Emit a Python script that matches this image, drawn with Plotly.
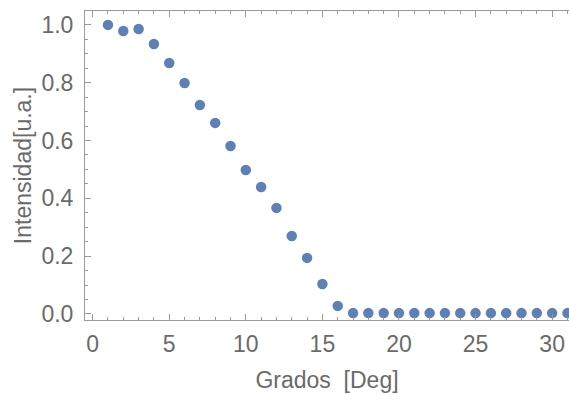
import plotly.graph_objects as go

angles = list(range(1, 32))
intensity = [1.0, 0.979, 0.986, 0.934, 0.868, 0.799, 0.723, 0.661, 0.581, 0.498,
             0.439, 0.367, 0.270, 0.194, 0.104, 0.028] + [0.003] * 15

x_ticks = [0, 5, 10, 15, 20, 25, 30]
y_ticks = [0.0, 0.2, 0.4, 0.6, 0.8, 1.0]
y_tick_labels = ["0.0", "0.2", "0.4", "0.6", "0.8", "1.0"]

gray = "#6a6a6a"
axis_col = "#9a9a9a"

fig = go.Figure()
fig.add_trace(go.Scatter(
    x=angles, y=intensity, mode="markers",
    marker=dict(color="#5E81B5", size=10.5, line=dict(width=0)),
    cliponaxis=True,
))

font = dict(family="Liberation Sans, Arial, sans-serif", size=23, color=gray)

fig.update_layout(
    width=569, height=395,
    margin=dict(l=85, r=0, t=11, b=75),
    paper_bgcolor="white", plot_bgcolor="white",
    showlegend=False,
    font=font,
    xaxis=dict(
        range=[-0.5, 31.1], tickvals=x_ticks, ticks="inside", ticklen=6,
        tickcolor=axis_col, showline=True, linecolor=axis_col, linewidth=1,
        mirror="ticks", showgrid=False, zeroline=False,
        ticklabelstandoff=3, tickfont=font,
        minor=dict(dtick=1, tick0=0, ticks="inside", ticklen=3, tickcolor=axis_col, showgrid=False),
        title=dict(text="Grados\u00a0\u00a0[Deg]", font=font, standoff=16),
    ),
    yaxis=dict(
        range=[-0.0208, 1.048], tickvals=y_ticks, ticktext=y_tick_labels,
        ticks="inside", ticklen=6, tickcolor=axis_col,
        showline=True, linecolor=axis_col, linewidth=1, mirror=False,
        showgrid=False, zeroline=False, ticklabelstandoff=6, tickfont=font,
        minor=dict(dtick=0.05, tick0=0, ticks="inside", ticklen=3, tickcolor=axis_col, showgrid=False),
        title=dict(text="Intensidad[u.a.]", font=font, standoff=3),
    ),
)

fig.write_html("out.html")
